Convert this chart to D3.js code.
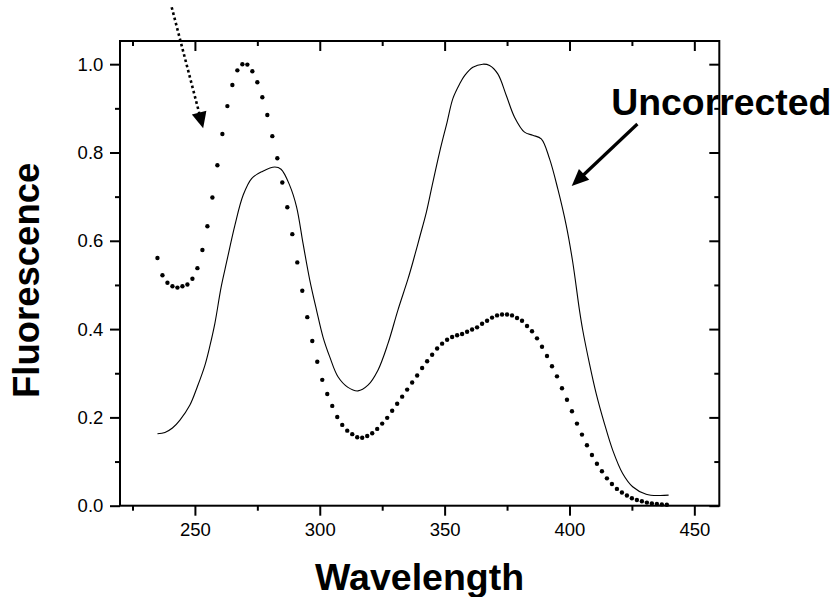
<!DOCTYPE html>
<html>
<head>
<meta charset="utf-8">
<script src="https://cdn.jsdelivr.net/npm/d3@7"></script>
<style>
  html, body { margin: 0; padding: 0; background: #fff; }
  svg { display: block; }
  text { font-family: "Liberation Sans", Arial, sans-serif; }
</style>
</head>
<body>
<svg id="chart" width="832" height="597"></svg>
<script>
// Corrected spectrum, sampled every 2 nm (drawn as dots)
const correctedWavelength = [
  235, 237, 239, 241, 243, 245, 247, 249, 251, 253, 255, 257, 259, 261, 263, 265, 267, 269, 271, 273,
  275, 277, 279, 281, 283, 285, 287, 289, 291, 293, 295, 297, 299, 301, 303, 305, 307, 309, 311, 313,
  315, 317, 319, 321, 323, 325, 327, 329, 331, 333, 335, 337, 339, 341, 343, 345, 347, 349, 351, 353,
  355, 357, 359, 361, 363, 365, 367, 369, 371, 373, 375, 377, 379, 381, 383, 385, 387, 389, 391, 393,
  395, 397, 399, 401, 403, 405, 407, 409, 411, 413, 415, 417, 419, 421, 423, 425, 427, 429, 431, 433,
  435, 437, 439
];
const correctedFluorescence = [
  0.561, 0.522, 0.505, 0.497, 0.494, 0.497, 0.501, 0.514, 0.538, 0.579, 0.633, 0.698, 0.771, 0.842, 0.905, 0.953, 0.986, 1.000, 0.999, 0.984,
  0.959, 0.925, 0.885, 0.837, 0.787, 0.732, 0.676, 0.615, 0.551, 0.487, 0.427, 0.373, 0.326, 0.285, 0.253, 0.226, 0.201, 0.183, 0.170, 0.162,
  0.155, 0.154, 0.158, 0.164, 0.174, 0.186, 0.199, 0.215, 0.231, 0.247, 0.263, 0.279, 0.295, 0.312, 0.327, 0.342, 0.356, 0.367, 0.376, 0.382,
  0.386, 0.389, 0.394, 0.399, 0.404, 0.412, 0.419, 0.426, 0.431, 0.433, 0.433, 0.431, 0.425, 0.419, 0.407, 0.395, 0.379, 0.360, 0.339, 0.316,
  0.293, 0.266, 0.240, 0.214, 0.186, 0.161, 0.137, 0.115, 0.095, 0.078, 0.062, 0.049, 0.038, 0.030, 0.023, 0.017, 0.013, 0.010, 0.007, 0.005,
  0.004, 0.003, 0.002
];

// Uncorrected spectrum (drawn as a thin line)
const uncorrectedWavelength = [
  235, 238, 241, 244, 248, 251, 254, 256, 258, 260.5, 262.7, 266, 269.3, 272.7, 277, 282, 284.5, 288, 290.7, 293.3,
  296, 298.7, 301.3, 304, 307.3, 311.3, 315.3, 319.3, 323.3, 327.3, 331.3, 335.3, 337.3, 340, 342.7, 345, 348, 351, 353.3, 356,
  358, 361.3, 365.3, 368, 371.3, 374.7, 378, 382, 385.3, 388.7, 392, 395.3, 398.7, 401.3, 404, 405.3, 408, 410.7, 414, 417.3,
  421.3, 425.3, 430.7, 436, 439.7
];
const uncorrectedFluorescence = [
  0.163, 0.166, 0.176, 0.194, 0.228, 0.270, 0.318, 0.362, 0.413, 0.495, 0.552, 0.635, 0.703, 0.741, 0.757, 0.767, 0.762, 0.725, 0.677, 0.594,
  0.511, 0.443, 0.382, 0.337, 0.292, 0.268, 0.260, 0.273, 0.307, 0.367, 0.443, 0.513, 0.552, 0.608, 0.665, 0.725, 0.801, 0.869, 0.922, 0.955,
  0.974, 0.993, 1.000, 0.997, 0.978, 0.929, 0.880, 0.846, 0.839, 0.831, 0.786, 0.718, 0.635, 0.552, 0.443, 0.398, 0.322, 0.254, 0.186, 0.126,
  0.073, 0.043, 0.026, 0.023, 0.024
];

// Axis ticks
const xMajorTicks = [250, 300, 350, 400, 450];
const xMinorTicks = [225, 275, 325, 375, 425];
const yMajorTicks = [0.0, 0.2, 0.4, 0.6, 0.8, 1.0];
const yMinorTicks = [0.1, 0.3, 0.5, 0.7, 0.9];
const xTitle = "Wavelength";
const yTitle = "Fluorescence";
const annotationText = "Uncorrected";

const svg = d3.select("#chart");
const plot = { left: 120, right: 719.3, top: 41, bottom: 505.7 };

const x = d3.scaleLinear().domain([220, 460]).range([plot.left, plot.right]);
const y = d3.scaleLinear().domain([0, 1.0525]).range([plot.bottom, plot.top]);

const fontFamily = '"Liberation Sans", Arial, sans-serif';

function styleAxis(g, labels) {
  g.select(".domain").remove();
  g.selectAll(".tick line").attr("stroke", "#000").attr("stroke-width", 2);
  g.selectAll(".tick text")
    .attr("fill", "#000")
    .style("font-family", fontFamily)
    .style("font-size", "18.5px");
  if (!labels) g.selectAll(".tick text").remove();
}

// Bottom axis: outward ticks with labels
svg.append("g").attr("transform", `translate(0,${plot.bottom})`)
  .call(d3.axisBottom(x).tickValues(xMajorTicks).tickSize(10).tickPadding(7.6).tickFormat(d3.format("d")))
  .call(g => styleAxis(g, true));
svg.append("g").attr("transform", `translate(0,${plot.bottom})`)
  .call(d3.axisBottom(x).tickValues(xMinorTicks).tickSize(5).tickFormat(""))
  .call(g => styleAxis(g, false));

// Top axis: inward ticks
svg.append("g").attr("transform", `translate(0,${plot.top})`)
  .call(d3.axisTop(x).tickValues(xMajorTicks).tickSize(-10).tickFormat(""))
  .call(g => styleAxis(g, false));
svg.append("g").attr("transform", `translate(0,${plot.top})`)
  .call(d3.axisTop(x).tickValues(xMinorTicks).tickSize(-5).tickFormat(""))
  .call(g => styleAxis(g, false));

// Left axis: outward ticks with labels
svg.append("g").attr("transform", `translate(${plot.left},0)`)
  .call(d3.axisLeft(y).tickValues(yMajorTicks).tickSize(10).tickPadding(6.7).tickFormat(d3.format(".1f")))
  .call(g => styleAxis(g, true));
svg.append("g").attr("transform", `translate(${plot.left},0)`)
  .call(d3.axisLeft(y).tickValues(yMinorTicks).tickSize(5).tickFormat(""))
  .call(g => styleAxis(g, false));

// Right axis: inward ticks
svg.append("g").attr("transform", `translate(${plot.right},0)`)
  .call(d3.axisRight(y).tickValues(yMajorTicks).tickSize(-10).tickFormat(""))
  .call(g => styleAxis(g, false));
svg.append("g").attr("transform", `translate(${plot.right},0)`)
  .call(d3.axisRight(y).tickValues(yMinorTicks).tickSize(-5).tickFormat(""))
  .call(g => styleAxis(g, false));

// Plot frame
svg.append("rect")
  .attr("x", plot.left).attr("y", plot.top)
  .attr("width", plot.right - plot.left).attr("height", plot.bottom - plot.top)
  .attr("fill", "none").attr("stroke", "#000").attr("stroke-width", 2);

// Uncorrected spectrum line
const uncorrected = uncorrectedWavelength.map((w, i) => [w, uncorrectedFluorescence[i]]);
svg.append("path")
  .datum(uncorrected)
  .attr("fill", "none")
  .attr("stroke", "#000")
  .attr("stroke-width", 1.1)
  .attr("d", d3.line().x(d => x(d[0])).y(d => y(d[1])).curve(d3.curveCatmullRom.alpha(0.5)));

// Corrected spectrum dots
const corrected = correctedWavelength.map((w, i) => [w, correctedFluorescence[i]]);
svg.append("g").selectAll("circle")
  .data(corrected)
  .join("circle")
  .attr("cx", d => x(d[0]))
  .attr("cy", d => y(d[1]))
  .attr("r", 2.2)
  .attr("fill", "#000");

// Arrow helper: shaft plus filled triangular head
function arrow(from, to, opts) {
  const x0 = x(from[0]), y0 = y(from[1]), x1 = x(to[0]), y1 = y(to[1]);
  const dx = x1 - x0, dy = y1 - y0, len = Math.hypot(dx, dy);
  const ux = dx / len, uy = dy / len;
  const bx = x1 - ux * opts.headLen, by = y1 - uy * opts.headLen;
  const px = -uy * opts.headHalf, py = ux * opts.headHalf;
  svg.append("line")
    .attr("x1", x0).attr("y1", y0)
    .attr("x2", bx + ux * 2).attr("y2", by + uy * 2)
    .attr("stroke", "#000")
    .attr("stroke-width", opts.width)
    .attr("stroke-dasharray", opts.dash || null);
  svg.append("path")
    .attr("d", `M${x1},${y1}L${bx + px},${by + py}L${bx - px},${by - py}Z`)
    .attr("fill", "#000");
}

// Dotted arrow pointing at the corrected (dotted) spectrum
arrow([240.7, 1.129], [253.3, 0.855], { width: 2.6, dash: "2.6 2.8", headLen: 16, headHalf: 7.5 });

// Label and arrow for the uncorrected spectrum
svg.append("text")
  .attr("x", x(416.7)).attr("y", y(0.885))
  .attr("text-anchor", "start")
  .style("font-family", fontFamily)
  .style("font-weight", "bold")
  .style("font-size", "37.4px")
  .attr("fill", "#000")
  .text(annotationText);
arrow([427.2, 0.8645], [400.9, 0.724], { width: 3.2, headLen: 17, headHalf: 7.5 });

// Axis titles
svg.append("text")
  .attr("x", (plot.left + plot.right) / 2)
  .attr("y", 590)
  .attr("text-anchor", "middle")
  .style("font-family", fontFamily)
  .style("font-weight", "bold")
  .style("font-size", "37.5px")
  .attr("fill", "#000")
  .text(xTitle);

svg.append("text")
  .attr("transform", `translate(39,${(plot.top + plot.bottom) / 2 + 7}) rotate(-90)`)
  .attr("text-anchor", "middle")
  .style("font-family", fontFamily)
  .style("font-weight", "bold")
  .style("font-size", "36.5px")
  .attr("fill", "#000")
  .text(yTitle);
</script>
</body>
</html>
